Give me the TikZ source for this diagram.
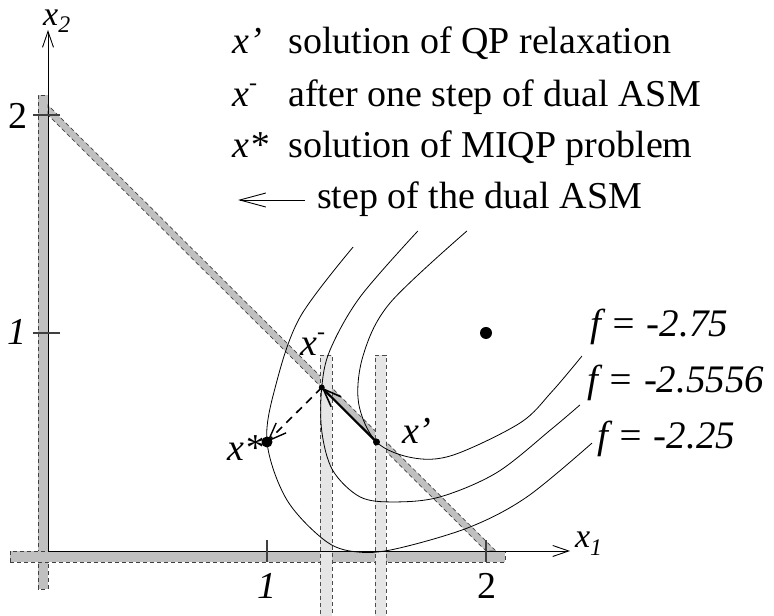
\documentclass[tikz,border=0pt]{standalone}
\usepackage{fontspec}
\setmainfont{Liberation Serif}
\usetikzlibrary{arrows.meta}
\definecolor{bandgray}{HTML}{C0C0C0}
\definecolor{branchgray}{HTML}{E6E6E6}
\newcommand{\bigtext}{\fontsize{38}{44}\selectfont}
\newcommand{\xminus}{x\raisebox{0.42em}{\fontsize{24}{24}\selectfont -}}
\begin{document}
\begin{tikzpicture}[x=219pt,y=218pt,
		band/.style={fill=bandgray,draw=black!75,dash pattern=on 4pt off 3pt,line width=0.7pt},
		branch/.style={fill=branchgray,draw=black!70,dash pattern=on 4pt off 3pt,line width=0.7pt},
		axis/.style={line width=0.9pt,-{Straight Barb[length=16pt,width=11pt,line width=0.9pt]}},
		tick/.style={line width=1.1pt,black!75},
		level/.style={line width=0.8pt},
		steparrow/.style={line width=2.2pt,-{Straight Barb[length=18pt,width=14pt,line width=1.6pt]}},
		dualarrow/.style={line width=1.6pt,dash pattern=on 8pt off 6pt,-{Straight Barb[length=18pt,width=14pt,line width=1.4pt,sep=0pt]}},
		lbl/.style={inner sep=0pt,anchor=base west,font=\bigtext}]
		\useasboundingbox (-0.2192,-0.2982) rectangle (3.3151,2.5275);
		% feasible set boundaries
		\draw[band] (-0.046,-0.174) rectangle (0,2.092);
		\draw[band] (-0.174,-0.05) rectangle (2.087,0);
		\draw[band] (0,2)--(0,2.045)--(2.045,0)--(2,0)--cycle;
		% branching bounds on x1
		\draw[branch] (1.242,-0.32) rectangle (1.297,0.899);
		\draw[branch] (1.493,-0.32) rectangle (1.543,0.899);
		% axes
		\coordinate (O) at (0,0);
		\coordinate (xend) at (2.384,0);
		\coordinate (yend) at (0,2.39);
		\draw[axis] (O)--(xend);
		\draw[axis] (O)--(yend);
		\draw[tick] (1,0.05)--(1,-0.05);
		\draw[tick] (2,0.05)--(2,-0.05);
		\draw[tick] (-0.068,1)--(0.055,1);
		\draw[tick] (-0.068,2)--(0.055,2);
		\node[lbl,anchor=base] (t1) at (1,-0.216) {\itshape 1};
		\node[lbl,anchor=base] (t2) at (2.005,-0.22) {2};
		\node[lbl,anchor=base east] (s1) at (-0.096,0.945) {\itshape 1};
		\node[lbl,anchor=base east] (s2) at (-0.091,1.94) {2};
		\node[lbl,font=\fontsize{34}{40}\selectfont] (x1lab) at (2.406,0.014) {\itshape x\textsubscript{1}};
		\node[lbl,font=\fontsize{34}{40}\selectfont] (x2lab) at (-0.023,2.412) {\itshape x\textsubscript{2}};
		% level sets of f
		\draw[level] plot[smooth,tension=0.55] coordinates {(1.393,1.394) (1.151,1.073) (1.040,0.760) (1.0,0.5) (1.091,0.234) (1.274,0.041) (1.43,-0.006) (1.607,0.014) (1.927,0.110) (2.187,0.248) (2.484,0.495)};
		\draw[level] plot[smooth,tension=0.55] coordinates {(1.689,1.468) (1.425,1.165) (1.288,0.922) (1.25,0.75) (1.250,0.55) (1.300,0.37) (1.425,0.248) (1.58,0.225) (1.790,0.248) (2.05,0.36) (2.30,0.56) (2.429,0.670)};
		\draw[level] plot[smooth,tension=0.55] coordinates {(1.913,1.468) (1.562,1.138) (1.440,0.90) (1.418,0.68) (1.5,0.5) (1.667,0.427) (1.85,0.44) (2.155,0.587) (2.30,0.73) (2.438,0.894)};
		\node[lbl,font=\fontsize{39}{44}\selectfont] (f1) at (2.475,0.982) {\itshape f = -2.75};
		\node[lbl,font=\fontsize{39}{44}\selectfont] (f2) at (2.462,0.729) {\itshape f = -2.5556};
		\node[lbl,font=\fontsize{39}{44}\selectfont] (f3) at (2.507,0.472) {\itshape f = -2.25};
		% points
		\coordinate (xr) at (1.5,0.5);
		\coordinate (xm) at (1.25,0.75);
		\coordinate (xs) at (1,0.5);
		\coordinate (xc) at (2,1);
		\draw[steparrow] (xr)--(xm);
		\draw[dualarrow] (xm)--(xs);
		\fill (xr) circle(3.5pt);
		\fill (xm) circle(3pt);
		\fill (xs) circle(5.5pt);
		\fill (xc) circle(6pt);
		\node[lbl] (xrlab) at (1.616,0.495) {\itshape x’};
		\node[lbl] (xmlab) at (1.151,0.899) {\itshape\xminus};
		\node[lbl] (xslab) at (0.82,0.417) {\itshape x*};
		% legend
		\node[lbl] (l1) at (0.840,2.284) {\itshape x’};
		\node[lbl] (l2) at (0.840,2.041) {\itshape\xminus};
		\node[lbl] (l3) at (0.840,1.803) {\itshape x*};
		\node[lbl] (d1) at (1.096,2.284) {solution of QP relaxation};
		\node[lbl] (d2) at (1.096,2.041) {after one step of dual ASM};
		\node[lbl] (d3) at (1.096,1.803) {solution of MIQP problem};
		\node[lbl] (d4) at (1.228,1.569) {step of the dual ASM};
		\coordinate (la) at (1.174,1.610);
		\coordinate (lb) at (0.868,1.610);
		\draw[line width=0.9pt,-{Straight Barb[length=26pt,width=14pt,line width=0.9pt]}] (la)--(lb);
		\end{tikzpicture}
\end{document}
